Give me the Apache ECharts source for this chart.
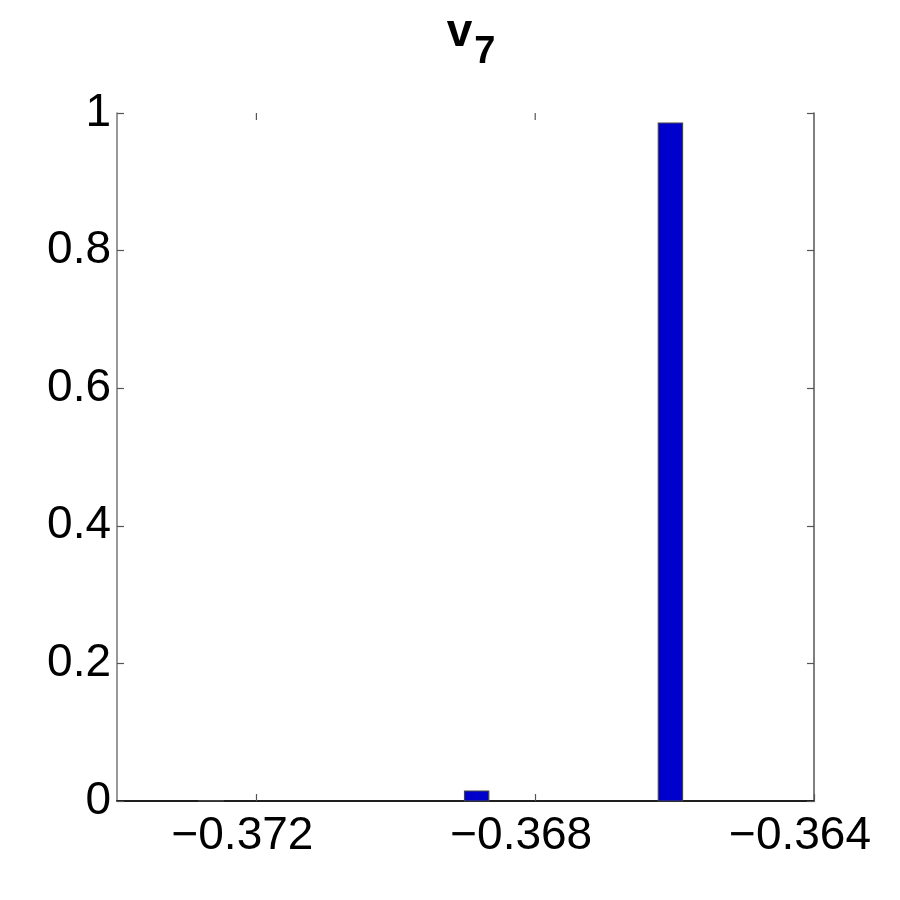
<!DOCTYPE html>
<html><head><meta charset="utf-8">
<script src="https://cdn.jsdelivr.net/npm/echarts@6/dist/echarts.min.js"></script>
<style>html,body{margin:0;padding:0;background:#fff}#c{width:900px;height:900px}</style>
</head><body><div id="c"></div>
<script>
const binCenters = [-0.37265, -0.36884, -0.36606];
const binHeights = [0.0005, 0.0145, 0.9855];
const binWidth = 0.000348;
const xTicks = [-0.372, -0.368, -0.364];
const yTicks = [0, 0.2, 0.4, 0.6, 0.8, 1];
const titleMain = 'v';
const titleSub = '7';

const data = binCenters.map((c, i) => [c - binWidth / 2, c + binWidth / 2, binHeights[i]]);
const font = 'Liberation Sans, Arial, sans-serif';
const chart = echarts.init(document.getElementById('c'));
chart.setOption({
  animation: false,
  backgroundColor: '#fff',
  title: {
    text: '{m|' + titleMain + '}{s|' + titleSub + '}',
    left: 466, top: 8, textAlign: 'center',
    textStyle: { rich: {
      m: { fontFamily: font, fontWeight: 'bold', fontSize: 46, color: '#000', lineHeight: 50, padding: [0, 0, 10, 0] },
      s: { fontFamily: font, fontWeight: 'bold', fontSize: 38, color: '#000', padding: [30, 0, 0, 2], lineHeight: 50 }
    } }
  },
  grid: { left: 117, right: 86, top: 113, bottom: 99 },
  xAxis: [{
    type: 'value', min: -0.374, max: -0.364, position: 'bottom',
    axisLine: { show: true, lineStyle: { color: '#555', width: 1.5 } },
    axisTick: { show: true, inside: true, length: 7, customValues: xTicks.slice(), lineStyle: { color: '#555', width: 1.2 } },
    axisLabel: { customValues: xTicks.slice(), color: '#000', fontFamily: font, fontSize: 46, margin: 12,
      padding: [0, 28, 0, 0],
      formatter: v => (v < 0 ? '\u2212' : '') + Math.abs(v).toFixed(3) },
    splitLine: { show: false }
  }, {
    type: 'value', min: -0.374, max: -0.364, position: 'top',
    axisLine: { show: true, lineStyle: { color: '#000', width: 1.5 } },
    axisTick: { show: false },
    axisLabel: { show: false }, splitLine: { show: false }
  }],
  yAxis: [{
    type: 'value', min: 0, max: 1, interval: 0.2, position: 'left',
    axisLine: { show: true, lineStyle: { color: '#777', width: 1.5 } },
    axisTick: { show: true, inside: true, length: 7, lineStyle: { color: '#555', width: 1.2 } },
    axisLabel: { color: '#000', fontFamily: font, fontSize: 46, margin: 6,
      formatter: v => String(v) },
    splitLine: { show: false }
  }, {
    type: 'value', min: 0, max: 1, interval: 0.2, position: 'right',
    axisLine: { show: true, lineStyle: { color: '#555', width: 1.5 } },
    axisTick: { show: true, inside: true, length: 7, lineStyle: { color: '#555', width: 1.2 } },
    axisLabel: { show: false }, splitLine: { show: false }
  }],
  series: [{
    type: 'custom',
    xAxisIndex: 0, yAxisIndex: 0,
    data: data,
    renderItem: function (params, api) {
      const p0 = api.coord([api.value(0), 0]);
      const p1 = api.coord([api.value(1), api.value(2)]);
      return {
        type: 'rect',
        shape: { x: p0[0], y: p1[1], width: p1[0] - p0[0], height: p0[1] - p1[1] },
        style: { fill: '#0000cc', stroke: '#444', lineWidth: 1.2 }
      };
    }
  }, {
    // top-edge inside ticks at the x tick values
    type: 'custom',
    xAxisIndex: 0, yAxisIndex: 0,
    silent: true,
    data: xTicks.slice(0, 2).map(v => [v, 1]),
    renderItem: function (params, api) {
      const p = api.coord([api.value(0), api.value(1)]);
      return {
        type: 'line',
        shape: { x1: p[0], y1: p[1], x2: p[0], y2: p[1] + 7 },
        style: { stroke: '#555', lineWidth: 1.2 }
      };
    }
  }]
});
</script></body></html>
